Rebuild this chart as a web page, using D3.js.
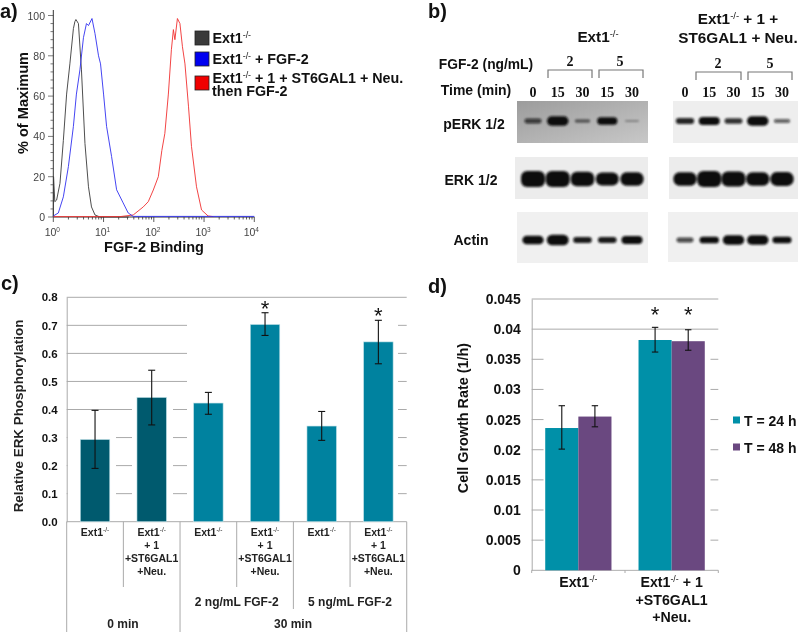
<!DOCTYPE html>
<html><head><meta charset="utf-8">
<script src="https://cdn.jsdelivr.net/npm/d3@7"></script>
<style>
html,body{margin:0;padding:0;background:#fff}
svg{display:block;filter:blur(0.35px)}
text{font-family:"Liberation Sans",Arial,sans-serif}
</style></head><body><svg id="c" width="800" height="632"></svg>
<script>
// ---- panel a: flow cytometry histograms, [log10 intensity, % of maximum]
const histBlack=[[0,0],[0.005,20],[0.03,7.6],[0.066,8.4],[0.133,16.7],[0.2,38],[0.265,61],[0.33,76],[0.4,93.5],[0.43,97],[0.45,98],[0.5,96],[0.56,73],[0.63,36.5],[0.7,15],[0.76,5],[0.83,1],[0.93,0],[1.5,0]];
const histBlue=[[0,0.5],[0.1,2],[0.2,10],[0.3,25],[0.4,45],[0.46,61],[0.53,73],[0.6,89],[0.66,96],[0.7,95],[0.77,98.5],[0.83,91],[0.9,80],[0.94,76],[1,61],[1.06,45],[1.16,30],[1.26,13.5],[1.39,7],[1.49,2],[1.59,0.3],[4,0.3]];
const histRed=[[0,0.2],[1.33,0.2],[1.59,1],[1.79,5],[1.89,7.6],[1.99,13.4],[2.09,20],[2.16,33],[2.22,41.5],[2.29,61],[2.35,83],[2.39,93],[2.42,88],[2.47,98.5],[2.52,96],[2.57,84.5],[2.62,76],[2.69,55],[2.75,35],[2.85,15],[2.95,3.5],[3.08,0.5],[3.18,0.2]];
const histTicksY=[0,20,40,60,80,100];
const histTicksX=[1,10,100,1000,10000];
const histLegend=["Ext1|-/-|","Ext1|-/-| + FGF-2","Ext1|-/-| + 1 + ST6GAL1 + Neu."];
const histColors=["#3a3a3a","#0000f0","#f00000"];

// ---- panel b: western blot band signal by lane (relative)
const blotLanes=["0","15a","30a","15b","30b"];
const laneLabels=["0","15","30","15","30"];
const perkLeft=[0.30,0.58,0.22,0.46,0.14];
const perkRight=[0.36,0.50,0.34,0.58,0.26];
const erkLeft=[1.0,1.0,0.90,0.80,0.84];
const erkRight=[0.84,1.0,0.95,0.84,0.86];
const actinLeft=[0.54,0.66,0.38,0.38,0.50];
const actinRight=[0.30,0.42,0.58,0.58,0.40];

// ---- panel c
const erkCats=["Ext1|-/-|","Ext1|-/-|\n+ 1\n+ST6GAL1\n+Neu.","Ext1|-/-|","Ext1|-/-|\n+ 1\n+ST6GAL1\n+Neu.","Ext1|-/-|","Ext1|-/-|\n+ 1\n+ST6GAL1\n+Neu."];
const erkVals=[0.293,0.443,0.423,0.703,0.341,0.641];
const erkLow=[0.19,0.345,0.383,0.664,0.29,0.563];
const erkHigh=[0.397,0.54,0.461,0.745,0.393,0.718];
const erkStar=[0,0,0,1,0,1];
const erkTicks=[0,0.1,0.2,0.3,0.4,0.5,0.6,0.7,0.8];

// ---- panel d
const growthGroups=["Ext1|-/-|","Ext1|-/-| + 1\n+ST6GAL1\n+Neu."];
const growthSeries=["T = 24 h","T = 48 h"];
const growth24=[0.0236,0.0382], growth48=[0.0255,0.0380];
const growth24Low=[0.0201,0.0362], growth24High=[0.0273,0.0403];
const growth48Low=[0.0238,0.0365], growth48High=[0.0273,0.0399];
const growthTicks=[0,0.005,0.01,0.015,0.02,0.025,0.03,0.035,0.04,0.045];
const growthColors=["#0090a8","#6a4880"];

const svg=d3.select("#c");
const defs=svg.append("defs");
defs.append("filter").attr("id","bandBlur").attr("x","-30%").attr("y","-50%").attr("width","160%").attr("height","200%")
  .append("feGaussianBlur").attr("stdDeviation",0.9);
const gg=defs.append("linearGradient").attr("id","perkBg").attr("x1",0).attr("x2",1).attr("y1",0).attr("y2",1);
gg.append("stop").attr("offset",0).attr("stop-color","#9c9c9c");
gg.append("stop").attr("offset",1).attr("stop-color","#c8c8c8");

function rich(sel,str){ // "a|sup|b" -> superscript in the middle
  const p=str.split("|");
  sel.text(null);
  p.forEach((s,i)=>{
    if(!s)return;
    const t=sel.append("tspan").text(s);
    if(i%2==1) t.attr("font-size","0.62em").attr("dy","-0.55em").attr("font-weight","normal");
    else if(i>0) t.attr("dy","0.34em");
  });
}
function label(x,y,str,o={}){
  const t=svg.append("text").attr("x",x).attr("y",y)
    .attr("font-size",o.size||12).attr("font-weight",o.weight||"bold")
    .attr("text-anchor",o.anchor||"middle").attr("fill",o.fill||"#111");
  if(o.family)t.style("font-family",o.family);
  if(o.rotate)t.attr("transform",`rotate(-90 ${x} ${y})`);
  rich(t,str);
  return t;
}
label(0,18,"a)",{size:20,anchor:"start"});
label(428,18,"b)",{size:20,anchor:"start"});
label(1,290,"c)",{size:20,anchor:"start"});
label(428,293,"d)",{size:20,anchor:"start"});

// ===== panel a
(function(){
  const x=d3.scaleLog().domain([1,1e4]).range([53.3,254.3]);
  const y=d3.scaleLinear().domain([0,100]).range([217,15.5]);
  const ax=svg.append("g").attr("transform","translate(0,217)");
  ax.selectAll("line.m").data(x.ticks()).join("line").attr("x1",d=>x(d)).attr("x2",d=>x(d)).attr("y1",0)
    .attr("y2",d=>histTicksX.includes(d)?5:2.5).attr("stroke","#333").attr("stroke-width",0.8);
  const minorY=d3.range(0,101,4);
  const ay=svg.append("g");
  ay.selectAll("line").data(minorY).join("line").attr("x1",d=>histTicksY.includes(d)?48:50.5).attr("x2",53.3)
    .attr("y1",d=>y(d)).attr("y2",d=>y(d)).attr("stroke","#444").attr("stroke-width",0.7);
  svg.append("line").attr("x1",53.3).attr("x2",53.3).attr("y1",10).attr("y2",217).attr("stroke","#333");
  svg.append("line").attr("x1",53.3).attr("x2",254.3).attr("y1",217).attr("y2",217).attr("stroke","#333");
  histTicksY.forEach(d=>label(45,y(d)+4,String(d),{size:10.5,weight:"normal",anchor:"end",fill:"#444"}));
  histTicksX.forEach((d,i)=>{
    const t=svg.append("text").attr("x",x(d)-(i==4?3:1)).attr("y",236).attr("text-anchor","middle").attr("font-size",10.5).attr("fill","#444");
    rich(t,"10|"+i+"|");
  });
  const line=d3.line().x(d=>x(10**d[0])).y(d=>y(d[1]));
  [[histBlack,"#3a3a3a"],[histRed,"#f03030"],[histBlue,"#3030f0"]].forEach(([h,c])=>{
    svg.append("path").attr("d",line(h)).attr("fill","none").attr("stroke",c).attr("stroke-width",0.9);
  });
  label(23,103,"% of Maximum",{size:14.6,rotate:true}).attr("dy",5);
  label(154,252,"FGF-2 Binding",{size:14.5});
  const ly=[38,59,83];
  const base=[43,64,83];
  histLegend.forEach((s,i)=>{
    svg.append("rect").attr("x",195).attr("y",ly[i]-7).attr("width",14).attr("height",14)
      .attr("fill",histColors[i]).attr("stroke","#222").attr("stroke-width",0.8);
    label(212.5,base[i],s,{size:14.3,anchor:"start"});
  });
  label(212,96,"then FGF-2",{size:14.3,anchor:"start"});
})();

// ===== panel b
(function(){
  const hdr={size:15.3};
  label(598,42,"Ext1|-/-|",hdr);
  label(738,24,"Ext1|-/-| + 1 +",hdr);
  label(738,43,"ST6GAL1 + Neu.",hdr);
  label(486,69,"FGF-2 (ng/mL)",{size:13.8});
  label(476,95,"Time (min)",{size:14});
  const serif={size:14,family:"'Liberation Serif',serif"};
  label(570,66,"2",serif);label(620,66,"5",serif);label(718,68,"2",serif);label(770,68,"5",serif);
  [[548,592,70],[599,643,70],[696,741,72],[748,792,72]].forEach(([a,b,t])=>{
    svg.append("path").attr("d",`M${a},${t+8}V${t}H${b}V${t+8}`).attr("fill","none").attr("stroke","#777").attr("stroke-width",1.2);
  });
  const laneL=d3.scalePoint().domain(blotLanes).range([533,632]);
  const laneR=d3.scalePoint().domain(blotLanes).range([685,782]);
  blotLanes.forEach((l,i)=>{
    label(laneL(l),97,laneLabels[i],serif);
    label(laneR(l),97,laneLabels[i],serif);
  });
  const rw=d3.scaleLinear().domain([0.14,0.5,1]).range([7,10.5,12]).clamp(true);
  const rh=d3.scaleLinear().domain([0,1]).range([0,8]);
  const op=d3.scaleLinear().domain([0.12,0.4]).range([0.25,1]).clamp(true);
  const rows=[
    {name:"pERK 1/2",lx:474,ly:129,cy:121,L:[517,648,101,143],R:[673,798,101,143],a:perkLeft,b:perkRight,bgL:"url(#perkBg)",bgR:"#eeeeee"},
    {name:"ERK 1/2",lx:471,ly:185,cy:179,L:[515,648,157,199],R:[669,798,157,199],a:erkLeft,b:erkRight,bgL:"#ececec",bgR:"#ececec"},
    {name:"Actin",lx:471,ly:245,cy:240,L:[517,648,212,263],R:[668,798,212,262],a:actinLeft,b:actinRight,bgL:"#f0f0f0",bgR:"#f0f0f0"}
  ];
  rows.forEach(r=>{
    label(r.lx,r.ly,r.name,{size:14});
    [[r.L,r.a,laneL,r.bgL],[r.R,r.b,laneR,r.bgR]].forEach(([box,vals,sc,bg])=>{
      svg.append("rect").attr("x",box[0]).attr("y",box[2]).attr("width",box[1]-box[0]).attr("height",box[3]-box[2]).attr("fill",bg);
      svg.append("g").attr("filter","url(#bandBlur)").selectAll("rect").data(vals).join("rect")
        .attr("x",(d,i)=>sc(blotLanes[i])-rw(d)).attr("width",d=>2*rw(d))
        .attr("y",d=>r.cy-rh(d)).attr("height",d=>2*rh(d))
        .attr("rx",d=>Math.min(6,rh(d))).attr("ry",d=>Math.min(6,rh(d)))
        .attr("fill","#0c0c0c").attr("opacity",d=>op(d));
    });
  });
})();

// ===== shared bar drawing helpers
function errs(g,cx,lo,hi,y,cap){
  g.append("line").attr("x1",cx).attr("x2",cx).attr("y1",y(lo)).attr("y2",y(hi)).attr("stroke","#111").attr("stroke-width",1.1);
  [lo,hi].forEach(v=>g.append("line").attr("x1",cx-cap).attr("x2",cx+cap).attr("y1",y(v)).attr("y2",y(v)).attr("stroke","#111").attr("stroke-width",1.1));
}
const axisGrey="#aaaaaa";

// ===== panel c
(function(){
  const x=d3.scaleBand().domain(d3.range(6)).range([66.7,406.7]).paddingInner(0.48).paddingOuter(0.24);
  const y=d3.scaleLinear().domain([0,0.8]).range([521.7,297.3]);
  const g=svg.append("g");
  erkTicks.forEach(t=>g.append("line").attr("x1",66.7).attr("x2",406.7).attr("y1",y(t)).attr("y2",y(t)).attr("stroke",axisGrey));
  // the original hides parts of the gridlines behind white panels
  const mask=(a,b,v)=>g.append("rect").attr("x",a).attr("width",b-a).attr("y",y(v)).attr("height",y(0)-y(v)-1).attr("fill","#fff");
  mask(187,398,0.76);
  mask(67.5,116,0.35);
  mask(132,173,0.46);
  const yAxis=d3.axisLeft(y).tickValues(erkTicks).tickFormat(d3.format(".1f")).tickSize(0).tickPadding(9);
  const ga=svg.append("g").attr("transform","translate(66.7,0)").call(yAxis);
  ga.select(".domain").attr("stroke",axisGrey);
  ga.selectAll("text").attr("font-size",11.5).attr("font-weight","bold").attr("fill","#111").style("font-family",'"Liberation Sans",Arial,sans-serif');
  svg.selectAll("rect.erk").data(erkVals).join("rect").attr("class","erk")
    .attr("x",(d,i)=>x(i)).attr("width",x.bandwidth()).attr("y",d=>y(d)).attr("height",d=>y(0)-y(d))
    .attr("fill",(d,i)=>i<2?"#005a6e":"#00829f").attr("stroke","#bfe0e6").attr("stroke-width",0.6);
  erkVals.forEach((d,i)=>{
    const cx=x(i)+x.bandwidth()/2;
    errs(svg,cx,erkLow[i],erkHigh[i],y,3.5);
    if(erkStar[i]) label(cx,y(erkHigh[i])+3,"*",{size:22,weight:"normal"});
    erkCats[i].split("\n").forEach((s,k)=>label(cx,[536,548.5,562,575][k],s,{size:10.5,fill:"#222"}));
  });
  // multi-level category frame
  const sep=(v,y2)=>svg.append("line").attr("x1",66.7+v*56.67).attr("x2",66.7+v*56.67).attr("y1",521.7).attr("y2",y2).attr("stroke",axisGrey).attr("stroke-width",1);
  [1,3,5].forEach(v=>sep(v,587));
  sep(4,609);
  [0,2,6].forEach(v=>sep(v,632));
  label(236.7,606,"2 ng/mL FGF-2",{size:12,fill:"#222"});
  label(350,606,"5 ng/mL FGF-2",{size:12,fill:"#222"});
  label(123,628,"0 min",{size:12,fill:"#222"});
  label(293,628,"30 min",{size:12,fill:"#222"});
  label(18,416,"Relative ERK Phosphorylation",{size:13.4,rotate:true,weight:"bold",fill:"#222"}).attr("dy",5);
})();

// ===== panel d
(function(){
  const x0=d3.scaleBand().domain([0,1]).range([531.7,718.3]).paddingInner(0.29).paddingOuter(0.145);
  const x1=d3.scaleBand().domain([0,1]).range([0,x0.bandwidth()]);
  const y=d3.scaleLinear().domain([0,0.045]).range([570.3,299]);
  const g=svg.append("g");
  growthTicks.forEach(t=>g.append("line").attr("x1",531.7).attr("x2",718.3).attr("y1",y(t)).attr("y2",y(t)).attr("stroke",axisGrey));
  g.append("rect").attr("x",543.5).attr("width",167).attr("y",y(0.0385)).attr("height",y(0)-y(0.0385)-1).attr("fill","#fff");
  const yAxis=d3.axisLeft(y).tickValues(growthTicks).tickFormat(d=>d===0?"0":String(+d.toFixed(3))).tickSize(0).tickPadding(11);
  const ga=svg.append("g").attr("transform","translate(531.7,0)").call(yAxis);
  ga.select(".domain").attr("stroke",axisGrey);
  ga.selectAll("text").attr("font-size",14).attr("font-weight","bold").attr("fill","#111").style("font-family",'"Liberation Sans",Arial,sans-serif');
  [531.7,625,718.3].forEach(v=>svg.append("line").attr("x1",v).attr("x2",v).attr("y1",570.3).attr("y2",573).attr("stroke",axisGrey));
  const series=[[growth24,growth24Low,growth24High],[growth48,growth48Low,growth48High]];
  series.forEach(([v,lo,hi],s)=>{
    v.forEach((d,i)=>{
      const bx=x0(i)+x1(s);
      svg.append("rect").attr("x",bx).attr("width",x1.bandwidth()).attr("y",y(d)).attr("height",y(0)-y(d)).attr("fill",growthColors[s]);
    });
  });
  series.forEach(([v,lo,hi],s)=>{
    v.forEach((d,i)=>{
      const cx=x0(i)+x1(s)+x1.bandwidth()/2;
      errs(svg,cx,lo[i],hi[i],y,3.2);
      if(i==1) label(cx,322,"*",{size:22,weight:"normal"});
    });
  });
  growthGroups.forEach((s,i)=>{
    const cx=x0(i)+x0.bandwidth()/2;
    s.split("\n").forEach((t,k)=>label(cx,[587,605,622][k],t,{size:14.2}));
  });
  label(463,418,"Cell Growth Rate (1/h)",{size:14.4,rotate:true}).attr("dy",5);
  growthSeries.forEach((s,i)=>{
    const ly=[420,447][i];
    svg.append("rect").attr("x",733).attr("y",ly-3.5).attr("width",7).attr("height",7).attr("fill",growthColors[i]);
    label(744,ly+6,s,{size:14,anchor:"start"});
  });
})();
</script></body></html>
